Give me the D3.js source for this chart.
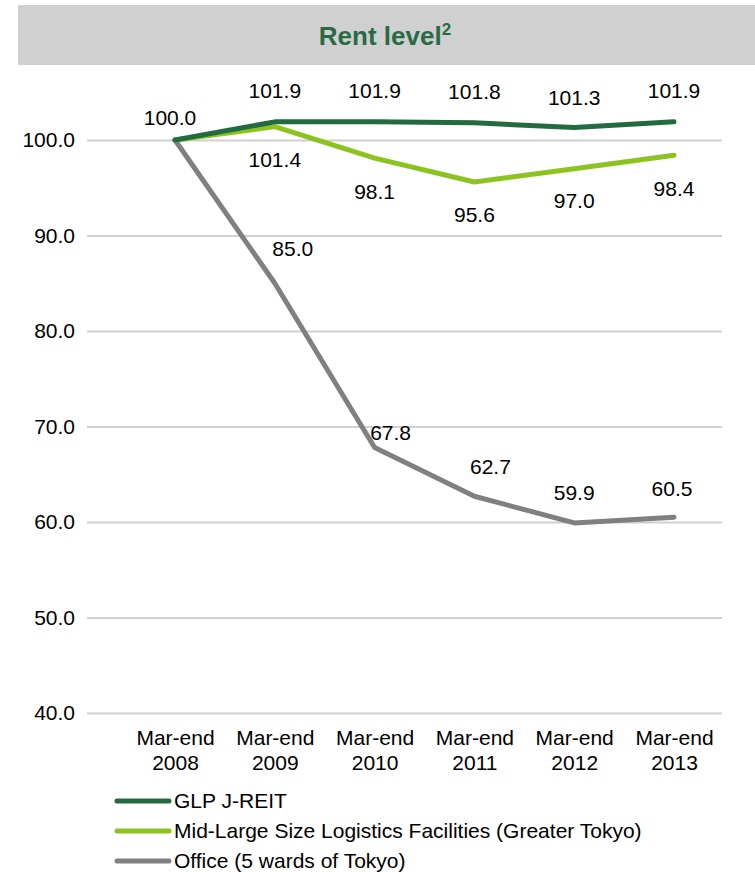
<!DOCTYPE html>
<html>
<head>
<meta charset="utf-8">
<script src="https://cdn.jsdelivr.net/npm/d3@7"></script>
<style>
  html, body { margin: 0; padding: 0; background: #fff; }
  svg { display: block; font-family: "Liberation Sans", Arial, sans-serif; }
</style>
</head>
<body>
<svg id="chart" width="755" height="872"></svg>
<script>
// Rent level index (Mar-end 2008 = 100)
const categories = ["Mar-end\n2008", "Mar-end\n2009", "Mar-end\n2010", "Mar-end\n2011", "Mar-end\n2012", "Mar-end\n2013"];
const glpValues = [100.0, 101.9, 101.9, 101.8, 101.3, 101.9];
const logisticsValues = [100.0, 101.4, 98.1, 95.6, 97.0, 98.4];
const officeValues = [100.0, 85.0, 67.8, 62.7, 59.9, 60.5];
const yTicks = [40, 50, 60, 70, 80, 90, 100];
const seriesNames = ["GLP J-REIT", "Mid-Large Size Logistics Facilities (Greater Tokyo)", "Office (5 wards of Tokyo)"];

// Value label placement (dx, dy from the point) per series; null = no label
const glpLabelOffsets = [[-5, -22], [0, -31], [0, -31], [0, -31], [0, -30], [0, -31]];
const logisticsLabelOffsets = [null, [0, 33], [0, 34], [0, 33], [0, 32], [0, 33]];
const officeLabelOffsets = [null, [18, -35], [16, -15], [16, -30], [0, -30], [-2, -29]];

const FONT = "'Liberation Sans', Arial, sans-serif";
const FS = 21;

const svg = d3.select("#chart");

// Title band
svg.append("rect").attr("x", 18).attr("y", 5).attr("width", 737).attr("height", 60).attr("fill", "#d0d0d0");
const title = svg.append("text").attr("x", 385).attr("y", 45).attr("text-anchor", "middle")
  .attr("fill", "#2a6b45").attr("font-weight", "bold").attr("font-size", 26);
title.append("tspan").text("Rent level");
title.append("tspan").attr("font-size", 17).attr("dy", -10).text("2");

const x = d3.scalePoint().domain(d3.range(categories.length)).range([175, 674]);
const y = d3.scaleLinear().domain([40, 100]).range([713, 140]);

// Gridlines + y tick labels
const yAxis = d3.axisLeft(y).tickValues(yTicks).tickSize(-635).tickFormat(d3.format(".1f")).tickPadding(12);
const gy = svg.append("g").attr("transform", "translate(87,0)").call(yAxis);
gy.select(".domain").remove();
gy.selectAll(".tick line").attr("stroke", "#d0d0d0").attr("stroke-width", 2);
gy.selectAll(".tick text").attr("font-size", FS).attr("fill", "#000").attr("font-family", FONT);

// Category labels (two lines each)
const gx = svg.append("g").attr("transform", "translate(0,713)")
  .call(d3.axisBottom(x).tickSize(0).tickFormat(() => ""));
gx.select(".domain").remove();
gx.selectAll(".tick").each(function (d) {
  const t = d3.select(this).select("text").attr("font-size", FS).attr("fill", "#000")
    .attr("font-family", FONT).attr("y", 0).attr("dy", null);
  categories[d].split("\n").forEach((line, i) => {
    t.append("tspan").attr("x", 0).attr("y", 32 + i * 25).text(line);
  });
});

const line = d3.line().x((d, i) => x(i)).y(d => y(d));
const series = [
  { values: officeValues, color: "#808080", offsets: officeLabelOffsets },
  { values: logisticsValues, color: "#8cc31f", offsets: logisticsLabelOffsets },
  { values: glpValues, color: "#236a40", offsets: glpLabelOffsets }
];

series.forEach(s => {
  svg.append("path").datum(s.values).attr("d", line).attr("fill", "none")
    .attr("stroke", s.color).attr("stroke-width", 5).attr("stroke-linejoin", "round").attr("stroke-linecap", "round");
});

series.forEach(s => {
  const pts = s.values.map((v, i) => ({ v, i, off: s.offsets[i] })).filter(p => p.off !== null);
  svg.append("g").selectAll("text").data(pts).join("text")
    .attr("x", p => x(p.i) + p.off[0])
    .attr("y", p => y(p.v) + p.off[1])
    .attr("dy", "0.35em")
    .attr("text-anchor", "middle").attr("font-size", FS).attr("fill", "#000")
    .text(p => p.v.toFixed(1));
});

// Legend
const legendColors = ["#236a40", "#8cc31f", "#808080"];
const lg = svg.append("g").selectAll("g").data(seriesNames).join("g")
  .attr("transform", (d, i) => `translate(117,${801 + i * 30})`);
lg.append("line").attr("x1", 0).attr("x2", 52).attr("y1", 0).attr("y2", 0)
  .attr("stroke", (d, i) => legendColors[i]).attr("stroke-width", 5).attr("stroke-linecap", "round");
lg.append("text").attr("x", 57).attr("y", 0).attr("dy", "0.35em").attr("font-size", FS).attr("fill", "#000").text(d => d);
</script>
</body>
</html>
